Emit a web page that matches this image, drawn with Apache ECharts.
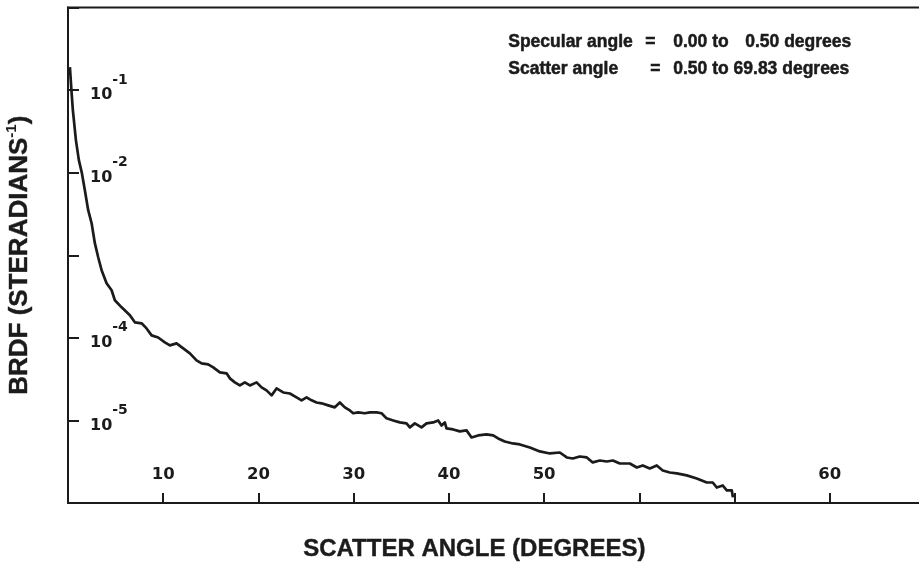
<!DOCTYPE html>
<html>
<head>
<meta charset="utf-8">
<script src="https://cdn.jsdelivr.net/npm/echarts@6/dist/echarts.min.js"></script>
<style>
  html, body { margin: 0; padding: 0; background: #fff; }
  #chart { width: 919px; height: 563px; }
</style>
</head>
<body>
<div id="chart"></div>
<script>
// Scatter angle (degrees) of each measured sample
const angleDeg = [
  0.20, 0.36, 0.51, 0.83, 1.14, 1.46, 1.77, 2.12, 2.48, 2.82,
  3.17, 3.53, 4.05, 4.58, 4.92, 5.63, 6.50, 7.02, 7.73, 8.25,
  8.78, 9.47, 10.17, 10.70, 11.40, 12.10, 12.80, 13.50, 14.03, 14.72,
  15.25, 15.95, 16.65, 17.00, 17.52, 18.05, 18.57, 19.10, 19.80, 20.33,
  20.85, 21.38, 21.90, 22.60, 23.30, 24.00, 24.53, 25.05, 25.58, 26.10,
  26.63, 27.32, 28.02, 28.55, 29.07, 29.60, 29.95, 30.47, 31.17, 31.70,
  32.40, 32.93, 33.45, 34.15, 34.85, 35.55, 35.90, 36.42, 37.13, 37.65,
  38.35, 38.87, 39.23, 39.57, 39.75, 40.45, 41.15, 41.85, 42.38, 43.07,
  43.95, 44.65, 45.17, 45.87, 46.71, 47.45, 48.50, 49.55, 50.60, 51.65,
  52.38, 53.01, 53.75, 54.48, 55.11, 55.85, 56.58, 57.22, 57.95, 59.00,
  59.74, 60.36, 61.10, 61.83, 62.46, 63.20, 63.93, 64.98, 66.03, 67.08,
  67.71, 68.13, 68.76, 69.18, 69.71, 69.83
];

// BRDF (sr^-1) at each scatter angle
const brdf = [
  0.190, 0.100, 0.0573, 0.0248, 0.0142, 0.00986, 0.00614, 0.00351, 0.00244, 0.00140,
  0.000946, 0.000658, 0.000458, 0.000377, 0.000285, 0.000234, 0.000188, 0.000154, 0.000150, 0.000130,
  0.000107, 0.000101, 8.82e-5, 8.11e-5, 8.57e-5, 7.46e-5, 6.49e-5, 5.33e-5, 4.91e-5, 4.77e-5,
  4.39e-5, 3.82e-5, 3.72e-5, 3.23e-5, 2.89e-5, 2.65e-5, 2.89e-5, 2.65e-5, 2.89e-5, 2.51e-5,
  2.31e-5, 2.01e-5, 2.44e-5, 2.18e-5, 2.12e-5, 1.90e-5, 1.75e-5, 1.90e-5, 1.75e-5, 1.65e-5,
  1.61e-5, 1.52e-5, 1.44e-5, 1.65e-5, 1.44e-5, 1.32e-5, 1.22e-5, 1.25e-5, 1.22e-5, 1.25e-5,
  1.25e-5, 1.22e-5, 1.06e-5, 1.00e-5, 9.46e-6, 9.20e-6, 8.23e-6, 9.20e-6, 8.23e-6, 9.20e-6,
  9.46e-6, 1.00e-5, 8.69e-6, 9.46e-6, 8.00e-6, 7.78e-6, 7.36e-6, 7.57e-6, 6.22e-6, 6.58e-6,
  6.76e-6, 6.58e-6, 6.05e-6, 5.56e-6, 5.26e-6, 5.12e-6, 4.71e-6, 4.21e-6, 3.98e-6, 4.09e-6,
  3.56e-6, 3.46e-6, 3.66e-6, 3.56e-6, 3.10e-6, 3.27e-6, 3.18e-6, 3.27e-6, 3.01e-6, 3.01e-6,
  2.69e-6, 2.85e-6, 2.62e-6, 2.85e-6, 2.48e-6, 2.34e-6, 2.28e-6, 2.16e-6, 1.98e-6, 1.77e-6,
  1.77e-6, 1.54e-6, 1.63e-6, 1.42e-6, 1.42e-6, 1.17e-6
];

// Tick labels printed along the angle axis
const xTickValues = [10, 20, 30, 40, 50, 60, 70, 80];
const xTickText   = ['10', '20', '30', '40', '50', '', '', '60'];

// Decades that carry a printed label on the BRDF axis
const yLabelledExponents = [-1, -2, -4, -5];

// Annotation lines in the top-right corner
const noteLine1 = ['Specular angle', '=', '0.00 to', '0.50 degrees'];
const noteLine2 = ['Scatter angle', '=', '0.50 to 69.83 degrees'];

const xTitle = 'SCATTER ANGLE (DEGREES)';

const ink = '#1b1b1b';
const sans = 'Liberation Sans, Arial, sans-serif';
const tickFont = 'DejaVu Sans, sans-serif';
const chart = echarts.init(document.getElementById('chart'), null, { renderer: 'canvas' });

function note(text, x, y) {
  return {
    type: 'text', left: x, top: y - 10,
    style: {
      text: text, fill: ink, fontFamily: sans, fontWeight: 'bold', fontSize: 17.5,
      stroke: ink, lineWidth: 0.5
    }
  };
}

chart.setOption({
  animation: false,
  backgroundColor: '#ffffff',
  grid: {
    left: 68, top: 7.5, right: -6, bottom: 60,
    containLabel: false, outerBoundsMode: 'none',
    show: true, borderColor: ink, borderWidth: 2
  },
  xAxis: {
    type: 'value',
    min: 0, max: 90, interval: 10,
    axisLine: { lineStyle: { color: ink, width: 2 } },
    axisTick: { inside: true, length: 10, lineStyle: { color: ink, width: 2 } },
    splitLine: { show: false },
    axisLabel: {
      inside: true, margin: 20,
      color: ink, fontFamily: tickFont, fontWeight: 'bold', fontSize: 16.5,
      formatter: function (v) {
        const i = xTickValues.indexOf(Math.round(v));
        return i >= 0 ? xTickText[i] : '';
      }
    }
  },
  yAxis: {
    type: 'log', logBase: 10,
    min: 1e-6, max: 1,
    name: '{t|BRDF (STERADIANS}{s|-1}{t|)}',
    nameLocation: 'middle', nameRotate: 90, nameGap: 32,
    nameTextStyle: {
      rich: {
        t: { fontFamily: sans, fontWeight: 'bold', fontSize: 26, color: ink, lineHeight: 32, textBorderColor: ink, textBorderWidth: 0.4 },
        s: { fontFamily: sans, fontWeight: 'bold', fontSize: 15, color: ink, verticalAlign: 'top', lineHeight: 32 }
      }
    },
    axisLine: { lineStyle: { color: ink, width: 2 } },
    axisTick: { inside: true, length: 11, lineStyle: { color: ink, width: 2 } },
    splitLine: { show: false },
    axisLabel: {
      inside: true, margin: 22,
      formatter: function (v) {
        const e = Math.round(Math.log10(v));
        return yLabelledExponents.indexOf(e) >= 0 ? '{b|10}{s|-' + Math.abs(e) + '}' : '';
      },
      rich: {
        b: { fontFamily: tickFont, fontWeight: 'bold', fontSize: 16, color: ink, lineHeight: 34, verticalAlign: 'bottom', padding: [0, 0, 4, 0] },
        s: { fontFamily: tickFont, fontWeight: 'bold', fontSize: 14, color: ink, lineHeight: 34, verticalAlign: 'top' }
      }
    }
  },
  graphic: [
    note(noteLine1[0], 508, 43), note(noteLine1[1], 645, 43), note(noteLine1[2], 673, 43), note(noteLine1[3], 745, 43),
    note(noteLine2[0], 508, 70), note(noteLine2[1], 650, 70), note(noteLine2[2], 673, 70),
    {
      type: 'text', left: 303, top: 537,
      style: { text: xTitle, fill: ink, fontFamily: sans, fontWeight: 'bold', fontSize: 24, stroke: ink, lineWidth: 0.4 }
    }
  ],
  series: [{
    type: 'line',
    data: angleDeg.map(function (a, i) { return [a, brdf[i]]; }),
    showSymbol: false,
    clip: true,
    lineStyle: { color: ink, width: 2.7, join: 'round' }
  }]
});
</script>
</body>
</html>
